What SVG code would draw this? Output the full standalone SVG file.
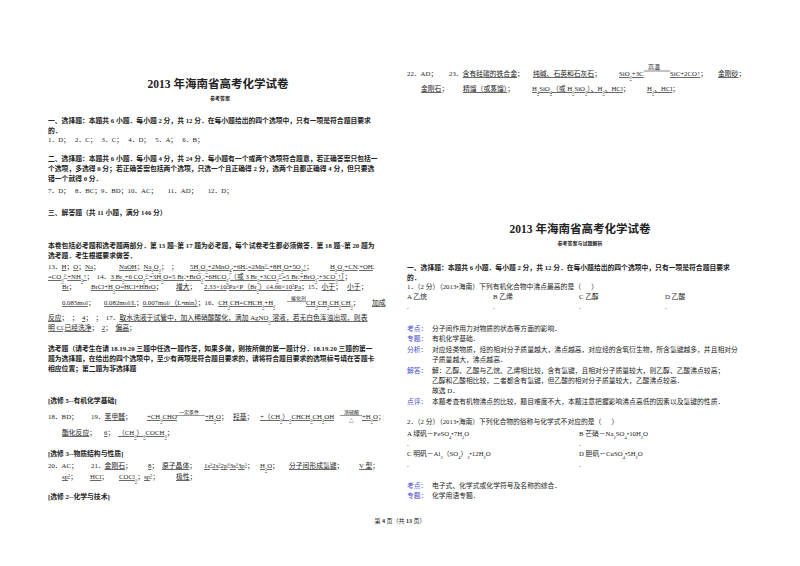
<svg xmlns="http://www.w3.org/2000/svg" width="800" height="566" viewBox="0 0 800 566" xml:space="preserve">
<style>
text{font-family:"Liberation Serif","Noto Sans CJK SC",serif;font-size:6.8px;fill:#222;white-space:pre}
.b{font-weight:bold}
.t{font-size:11.5px;font-weight:bold;text-anchor:middle}
.s{font-size:5px;font-weight:bold;text-anchor:middle}
.u{text-decoration:underline}
.k{fill:#4a4ad0}
.sb{baseline-shift:sub;font-size:4.5px}
.sp{baseline-shift:super;font-size:4.5px}
.a{font-size:5px}
.ar{stroke:#333;stroke-width:0.5}
</style>
<rect width="800" height="566" fill="#fff"/>
<g id="left-page">
<text class="t" x="218" y="88">2013 年海南省高考化学试卷</text>
<text class="s" x="220" y="100">参考答案</text>
<text class="b" x="48" y="123">一、选择题：本题共 6 小题．每小题 2 分，共 12 分．在每小题给出的四个选项中，只有一项是符合题目要求</text>
<text class="b" x="48" y="133">的．</text>
<text x="48" y="142">1．D；   2．C；   3．C；   4．D；   5．A；   6．B；</text>
<text class="b" x="48" y="161">二、选择题：本题共 6 小题．每小题 4 分，共 24 分．每小题有一个或两个选项符合题意，若正确答案只包括一</text>
<text class="b" x="48" y="171">个选项，多选得 0 分；若正确答案包括两个选项，只选一个且正确得 2 分，选两个且都正确得 4 分，但只要选</text>
<text class="b" x="48" y="181">错一个就得 0 分．</text>
<text x="48" y="193">7．D；   8．BC；9．BD；10．AC；      11．AD；      12．D；</text>
<text class="b" x="48" y="215">三、解答题（共 11 小题，满分 146 分）</text>
<text class="b" x="48" y="248">本卷包括必考题和选考题两部分．第 13 题~第 17 题为必考题，每个试卷考生都必须做答．第 18 题~第 20 题为</text>
<text class="b" x="48" y="258">选考题．考生根据要求做答．</text>
<text x="48" y="269">13．<tspan class="u">H</tspan>；<tspan class="u">O</tspan>；<tspan class="u">Na</tspan>；</text>
<text x="119" y="269"><tspan class="u">NaOH</tspan>；<tspan class="u">Na<tspan class="sb">2</tspan>O<tspan class="sb">2</tspan></tspan>；  ；</text>
<text x="190" y="269"><tspan class="u">5H<tspan class="sb">2</tspan>O<tspan class="sb">2</tspan>+2MnO<tspan class="sb">4</tspan><tspan class="sp">-</tspan>+6H<tspan class="sp">+</tspan>=2Mn<tspan class="sp">2+</tspan>+8H<tspan class="sb">2</tspan>O+5O<tspan class="sb">2</tspan>↑</tspan>；</text>
<text x="330" y="269"><tspan class="u">H<tspan class="sb">2</tspan>O<tspan class="sb">2</tspan>+CN<tspan class="sp">-</tspan>+OH<tspan class="sp">-</tspan></tspan></text>
<text x="48" y="279"><tspan class="u">=CO<tspan class="sb">3</tspan><tspan class="sp">2-</tspan>+NH<tspan class="sb">3</tspan>↑</tspan>；  14．<tspan class="u">3 Br<tspan class="sb">2</tspan>+6 CO<tspan class="sb">3</tspan><tspan class="sp">2-</tspan>+3H<tspan class="sb">2</tspan>O=5 Br<tspan class="sp">-</tspan>+BrO<tspan class="sb">3</tspan><tspan class="sp">-</tspan>+6HCO<tspan class="sb">3</tspan><tspan class="sp">-</tspan>（或 3 Br<tspan class="sb">2</tspan>+3CO<tspan class="sb">3</tspan><tspan class="sp">2-</tspan>=5 Br<tspan class="sp">-</tspan>+BrO<tspan class="sb">3</tspan><tspan class="sp">-</tspan>+3CO<tspan class="sb">2</tspan>↑）</tspan>；</text>
<text x="62" y="289"><tspan class="u">Br</tspan>；</text>
<text x="91" y="289"><tspan class="u">BrCl+H<tspan class="sb">2</tspan>O=HCl+HBrO</tspan>；</text>
<text x="176" y="289"><tspan class="u">增大</tspan>；</text>
<text x="204" y="289"><tspan class="u">2.33×10<tspan class="sp">3</tspan>Pa&lt;P（Br<tspan class="sb">2</tspan>）≤4.66×10<tspan class="sp">3</tspan>Pa</tspan>；15．<tspan class="u">小于</tspan>；   <tspan class="u">小于</tspan>；</text>
<text x="62" y="305"><tspan class="u">0.085mol</tspan>；</text>
<text x="104" y="305"><tspan class="u">0.082mol/L</tspan>；<tspan class="u">0.007mol/（L•min）</tspan>；16．<tspan class="u">CH<tspan class="sb">3</tspan>CH=CHCH<tspan class="sb">3</tspan>+H<tspan class="sb">2</tspan></tspan></text>
<text class="a" x="291" y="299.5">催化剂</text>
<line class="ar" x1="287" y1="301.5" x2="306" y2="301.5"/>
<text x="306" y="305"><tspan class="u">CH<tspan class="sb">3</tspan>CH<tspan class="sb">2</tspan>CH<tspan class="sb">2</tspan>CH<tspan class="sb">3</tspan></tspan>；</text>
<text x="372" y="305"><tspan class="u">加成</tspan></text>
<text x="48" y="320"><tspan class="u">反应</tspan>；  ；  <tspan class="u">4</tspan>；  ；  17．<tspan class="u">取水洗液于试管中，加入稀硝酸酸化，滴加 AgNO<tspan class="sb">3</tspan> 溶液，若无白色浑浊出现，则表</tspan></text>
<text x="48" y="330"><tspan class="u">明 Cl<tspan class="sp">-</tspan>已经洗净</tspan>；  <tspan class="u">2</tspan>；  <tspan class="u">偏高</tspan>；</text>
<text class="b" x="48" y="351">选考题（请考生在请 18.19.20 三题中任选一题作答，如果多做，则按所做的第一题计分．18.19.20 三题的第一</text>
<text class="b" x="48" y="361">题为选择题，在给出的四个选项中，至少有两项是符合题目要求的，请将符合题目要求的选项标号填在答题卡</text>
<text class="b" x="48" y="371">相应位置；第二题为非选择题</text>
<text class="b" x="48" y="403">[选修 5--有机化学基础]</text>
<text x="48" y="419">18．BD；</text>
<text x="91" y="419">19．<tspan class="u">苯甲醛</tspan>；</text>
<text x="147" y="419"><tspan class="u">+CH<tspan class="sb">3</tspan>CHO</tspan></text>
<text class="a" x="179" y="414">一定条件</text>
<line class="ar" x1="176" y1="415.5" x2="205" y2="415.5"/>
<text x="205" y="419"><tspan class="u">+H<tspan class="sb">2</tspan>O</tspan>；</text>
<text x="233" y="419"><tspan class="u">羟基</tspan>；</text>
<text x="260" y="419"><tspan class="u">+（CH<tspan class="sb">3</tspan>）<tspan class="sb">2</tspan>CHCH<tspan class="sb">2</tspan>CH<tspan class="sb">2</tspan>OH</tspan></text>
<text class="a" x="344" y="414">浓硫酸</text>
<line class="ar" x1="340" y1="415.5" x2="362" y2="415.5"/>
<text x="349" y="422" style="font-size:4.5px">△</text>
<text x="362" y="419"><tspan class="u">+H<tspan class="sb">2</tspan>O</tspan>；</text>
<text x="62" y="435"><tspan class="u">酯化反应</tspan>；</text>
<text x="104" y="435"><tspan class="u">6</tspan>；</text>
<text x="118" y="435"><tspan class="u">（CH<tspan class="sb">3</tspan>）<tspan class="sb">2</tspan>COCH<tspan class="sb">3</tspan></tspan>；</text>
<text class="b" x="48" y="456">[选修 3--物质结构与性质]</text>
<text x="48" y="468">20．AC；</text>
<text x="91" y="468">21．<tspan class="u">金刚石</tspan>；</text>
<text x="148" y="468"><tspan class="u">8</tspan>；</text>
<text x="162" y="468"><tspan class="u">原子晶体</tspan>；</text>
<text x="204" y="468"><tspan class="u">1s<tspan class="sp">2</tspan>2s<tspan class="sp">2</tspan>2p<tspan class="sp">6</tspan>3s<tspan class="sp">2</tspan>3p<tspan class="sp">5</tspan></tspan>；</text>
<text x="260" y="468"><tspan class="u">H<tspan class="sb">2</tspan>O</tspan>；</text>
<text x="289" y="468"><tspan class="u">分子间形成氢键</tspan>；</text>
<text x="359" y="468"><tspan class="u">V 型</tspan>；</text>
<text x="62" y="479"><tspan class="u">sp<tspan class="sp">3</tspan></tspan>；</text>
<text x="90" y="479"><tspan class="u">HCl</tspan>；</text>
<text x="119" y="479"><tspan class="u">COCl<tspan class="sb">2</tspan></tspan>；<tspan class="u">sp<tspan class="sp">2</tspan></tspan>；</text>
<text x="176" y="479"><tspan class="u">极性</tspan>；</text>
<text class="b" x="48" y="499">[选修 2--化学与技术]</text>
</g>
<g id="right-page">
<text x="407" y="76">22．AD；</text>
<text x="449" y="76">23．<tspan class="u">含有硅碳的铁合金</tspan>；</text>
<text x="533" y="76"><tspan class="u">纯碱、石英和石灰石</tspan>；</text>
<text x="619" y="76"><tspan class="u">SiO<tspan class="sb">2</tspan>+3C</tspan></text>
<text x="648" y="69" style="font-size:6px">高温</text>
<line x1="644" y1="71" x2="670" y2="71" stroke="#333" stroke-width="0.6"/>
<text x="670" y="76"><tspan class="u">SiC+2CO↑</tspan>；</text>
<text x="718" y="76"><tspan class="u">金刚砂</tspan>；</text>
<text x="421" y="91"><tspan class="u">金刚石</tspan>；</text>
<text x="463" y="91"><tspan class="u">精馏（或蒸馏）</tspan>；</text>
<text x="532" y="91"><tspan class="u">H<tspan class="sb">4</tspan>SiO<tspan class="sb">4</tspan>（或 H<tspan class="sb">2</tspan>SiO<tspan class="sb">3</tspan>）、H<tspan class="sb">2</tspan>、HCl</tspan>；</text>
<text x="647" y="91"><tspan class="u">H<tspan class="sb">2</tspan>、HCl</tspan>；</text>
<text class="t" x="580" y="233">2013 年海南省高考化学试卷</text>
<text class="s" x="580" y="245">参考答案与试题解析</text>
<text class="b" x="407" y="270">一、选择题：本题共 6 小题．每小题 2 分，共 12 分．在每小题给出的四个选项中，只有一项是符合题目要求</text>
<text class="b" x="407" y="280">的．</text>
<text x="407" y="289">1．（2 分）（2013•海南）下列有机化合物中沸点最高的是（      ）</text>
<text x="407" y="299">A 乙烷</text><text x="493" y="299">B 乙烯</text><text x="579" y="299">C 乙醇</text><text x="665" y="299">D 乙酸</text>
<text x="407" y="309">.</text><text x="493" y="309">.</text><text x="579" y="309">.</text><text x="665" y="309">.</text>
<text class="k" x="407" y="331">考点：</text><text x="432" y="331">分子间作用力对物质的状态等方面的影响．</text>
<text class="k" x="407" y="341">专题：</text><text x="432" y="341">有机化学基础．</text>
<text class="k" x="407" y="352">分析：</text><text x="432" y="352">对应烃类物质，烃的相对分子质量越大，沸点越高，对应烃的含氧衍生物，所含氢键越多，并且相对分</text>
<text x="432" y="362">子质量越大，沸点越高．</text>
<text class="k" x="407" y="373">解答：</text><text x="432" y="373">解：乙醇、乙酸与乙烷、乙烯相比较，含有氢键，且相对分子质量较大，则乙醇、乙酸沸点较高；</text>
<text x="432" y="383">乙醇和乙酸相比较，二者都含有氢键，但乙酸的相对分子质量较大，乙酸沸点较高．</text>
<text x="432" y="393">故选 D．</text>
<text class="k" x="407" y="404">点评：</text><text x="432" y="404">本题考查有机物沸点的比较，题目难度不大，本题注意把握影响沸点高低的因素以及氢键的性质．</text>
<text x="407" y="424">2．（2 分）（2013•海南）下列化合物的俗称与化学式不对应的是（      ）</text>
<text x="407" y="436">A 绿矾－FeSO<tspan class="sb">4</tspan>•7H<tspan class="sb">2</tspan>O</text>
<text x="579" y="436">B 芒硝－Na<tspan class="sb">2</tspan>SO<tspan class="sb">4</tspan>•10H<tspan class="sb">2</tspan>O</text>
<text x="407" y="446">.</text><text x="579" y="446">.</text>
<text x="407" y="456">C 明矾－Al<tspan class="sb">2</tspan>（SO<tspan class="sb">4</tspan>）<tspan class="sb">3</tspan>•12H<tspan class="sb">2</tspan>O</text>
<text x="579" y="456">D 胆矾－CuSO<tspan class="sb">4</tspan>•5H<tspan class="sb">2</tspan>O</text>
<text x="407" y="467">.</text><text x="579" y="467">.</text>
<text class="k" x="407" y="488">考点：</text><text x="432" y="488">电子式、化学式或化学符号及名称的综合．</text>
<text class="k" x="407" y="498">专题：</text><text x="432" y="498">化学用语专题．</text>
</g>
<g id="footer"><text x="400" y="523" style="font-size:6px;text-anchor:middle">第 <tspan class="b">4</tspan> 页（共 <tspan class="b">13</tspan> 页）</text></g>
</svg>
